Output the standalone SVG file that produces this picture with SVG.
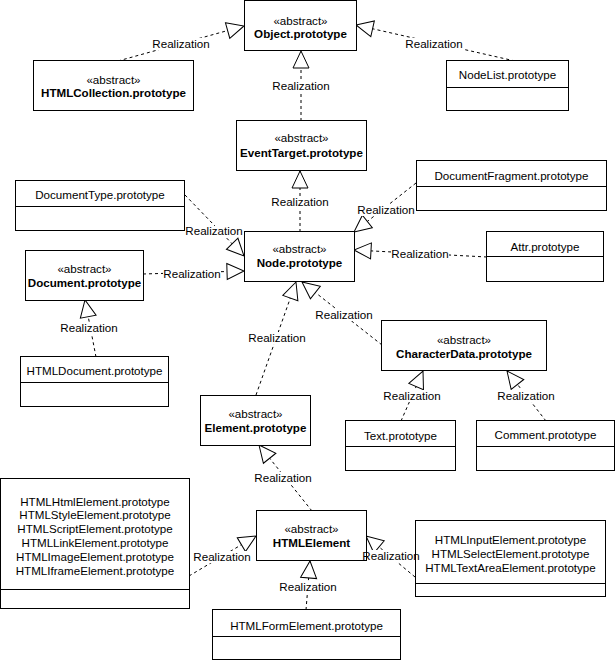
<svg xmlns="http://www.w3.org/2000/svg" width="616" height="661" viewBox="0 0 616 661">
<defs>
<style>
.box{fill:#fff;stroke:#000;stroke-width:1}
.div{fill:none;stroke:#000;stroke-width:1}
.t{font-family:"Liberation Sans",Arial,Helvetica,sans-serif;font-size:11.6px;fill:#000;text-anchor:middle}
.b{font-weight:bold}
.e{fill:none;stroke:#000;stroke-width:1;stroke-dasharray:3 3;marker-end:url(#tri)}
.lb{fill:#fff}
</style>
<marker id="tri" markerUnits="userSpaceOnUse" markerWidth="20" markerHeight="20" viewBox="0 0 20 20" refX="17" refY="8" orient="auto" overflow="visible">
<path d="M0,0 L17,8 L0,16 Z" fill="#fff" stroke="#000" stroke-width="1" stroke-dasharray="none"/>
</marker>
</defs>
<rect width="616" height="661" fill="#fff"/>

<g id="connectors">
<path class="e" d="M118,61 L244,26"/>
<path class="e" d="M515,61 L356,25"/>
<path class="e" d="M301,121 L301,51"/>
<path class="e" d="M300,232 L300,171"/>
<path class="e" d="M185,195 L244,256"/>
<path class="e" d="M143,274 L244,271"/>
<path class="e" d="M416,183 L354,232"/>
<path class="e" d="M487,257 L354,250"/>
<path class="e" d="M256,395 L296,282"/>
<path class="e" d="M382,345 L302,282"/>
<path class="e" d="M96,357 L85,300"/>
<path class="e" d="M401,421 L423,371"/>
<path class="e" d="M546,421 L507,371"/>
<path class="e" d="M312,511 L259,445"/>
<path class="e" d="M189,576 L256,536"/>
<path class="e" d="M415,577 L366,536"/>
<path class="e" d="M306,610 L310,561"/>
</g>

<g id="object"><rect class="box" x="244.5" y="0.5" width="112" height="50"/>
<text class="t" x="300.5" y="24.5">«abstract»</text><text class="t b" x="300.5" y="38">Object.prototype</text></g>

<g id="htmlcollection"><rect class="box" x="33.5" y="60.5" width="160" height="50"/>
<text class="t" x="113.5" y="84">«abstract»</text><text class="t b" x="113.5" y="97">HTMLCollection.prototype</text></g>

<g id="nodelist"><rect class="box" x="446.5" y="60.5" width="122" height="50"/><path class="div" d="M446.5,87.5 H568.5"/>
<text class="t" x="507.5" y="79">NodeList.prototype</text></g>

<g id="eventtarget"><rect class="box" x="236.5" y="120.5" width="130" height="50"/>
<text class="t" x="301.5" y="142">«abstract»</text><text class="t b" x="301.5" y="157">EventTarget.prototype</text></g>

<g id="documenttype"><rect class="box" x="15.5" y="180.5" width="169" height="50"/><path class="div" d="M15.5,206.5 H184.5"/>
<text class="t" x="100" y="199">DocumentType.prototype</text></g>

<g id="documentfragment"><rect class="box" x="416.5" y="160.5" width="190" height="50"/><path class="div" d="M416.5,186.5 H606.5"/>
<text class="t" x="511.5" y="180">DocumentFragment.prototype</text></g>

<g id="node"><rect class="box" x="244.5" y="231.5" width="110" height="50"/>
<text class="t" x="299.5" y="253">«abstract»</text><text class="t b" x="299.5" y="267">Node.prototype</text></g>

<g id="attr"><rect class="box" x="486.5" y="231.5" width="117" height="50"/><path class="div" d="M486.5,256.5 H603.5"/>
<text class="t" x="545" y="250.5">Attr.prototype</text></g>

<g id="document"><rect class="box" x="25.5" y="250.5" width="118" height="50"/>
<text class="t" x="84.5" y="273">«abstract»</text><text class="t b" x="84.5" y="287">Document.prototype</text></g>

<g id="htmldocument"><rect class="box" x="20.5" y="356.5" width="148" height="50"/><path class="div" d="M20.5,382.5 H168.5"/>
<text class="t" x="94.5" y="375">HTMLDocument.prototype</text></g>

<g id="characterdata"><rect class="box" x="381.5" y="320.5" width="165" height="50"/>
<text class="t" x="464" y="344">«abstract»</text><text class="t b" x="464" y="357.5">CharacterData.prototype</text></g>

<g id="element"><rect class="box" x="200.5" y="395.5" width="110" height="50"/>
<text class="t" x="255.5" y="418">«abstract»</text><text class="t b" x="255.5" y="431.5">Element.prototype</text></g>

<g id="text"><rect class="box" x="345.5" y="420.5" width="110" height="50"/><path class="div" d="M345.5,446.5 H455.5"/>
<text class="t" x="400.5" y="440">Text.prototype</text></g>

<g id="comment"><rect class="box" x="476.5" y="420.5" width="138" height="50"/><path class="div" d="M476.5,446.5 H614.5"/>
<text class="t" x="545.5" y="439">Comment.prototype</text></g>

<g id="htmlelements"><rect class="box" x="0.5" y="478.5" width="189" height="130"/><path class="div" d="M0.5,589.5 H189.5"/>
<text class="t" x="95" y="505.5">HTMLHtmlElement.prototype</text>
<text class="t" x="95" y="519.3">HTMLStyleElement.prototype</text>
<text class="t" x="95" y="533.1">HTMLScriptElement.prototype</text>
<text class="t" x="95" y="546.9">HTMLLinkElement.prototype</text>
<text class="t" x="95" y="560.7">HTMLImageElement.prototype</text>
<text class="t" x="95" y="574.5">HTMLIframeElement.prototype</text></g>

<g id="htmlelement"><rect class="box" x="256.5" y="510.5" width="110" height="50"/>
<text class="t" x="311.5" y="533">«abstract»</text><text class="t b" x="311.5" y="547">HTMLElement</text></g>

<g id="formcontrols"><rect class="box" x="415.5" y="520.5" width="190" height="76"/><path class="div" d="M415.5,583.5 H605.5"/>
<text class="t" x="510.5" y="544">HTMLInputElement.prototype</text>
<text class="t" x="510.5" y="558">HTMLSelectElement.prototype</text>
<text class="t" x="510.5" y="572">HTMLTextAreaElement.prototype</text></g>

<g id="htmlform"><rect class="box" x="212.5" y="609.5" width="188" height="50"/><path class="div" d="M212.5,636.5 H400.5"/>
<text class="t" x="306.5" y="630">HTMLFormElement.prototype</text></g>

<g id="connector-labels">
<rect class="lb" x="152" y="38" width="58" height="12"/><text class="t" x="181" y="48">Realization</text>
<rect class="lb" x="405" y="38" width="58" height="12"/><text class="t" x="434" y="48">Realization</text>
<rect class="lb" x="272" y="80" width="58" height="12"/><text class="t" x="301" y="90">Realization</text>
<rect class="lb" x="271" y="196" width="58" height="12"/><text class="t" x="300" y="206">Realization</text>
<rect class="lb" x="186" y="226" width="56" height="11"/><text class="t" x="214" y="235">Realization</text>
<rect class="lb" x="163" y="268" width="58" height="12"/><text class="t" x="192" y="278">Realization</text>
<rect class="lb" x="357" y="204" width="58" height="12"/><text class="t" x="386" y="214">Realization</text>
<rect class="lb" x="391" y="248" width="58" height="12"/><text class="t" x="420" y="258">Realization</text>
<rect class="lb" x="248" y="332" width="58" height="12"/><text class="t" x="277" y="342">Realization</text>
<rect class="lb" x="315" y="309" width="58" height="12"/><text class="t" x="344" y="319">Realization</text>
<rect class="lb" x="60" y="322" width="58" height="12"/><text class="t" x="89" y="332">Realization</text>
<rect class="lb" x="383" y="390" width="58" height="12"/><text class="t" x="412" y="400">Realization</text>
<rect class="lb" x="497" y="390" width="58" height="12"/><text class="t" x="526" y="400">Realization</text>
<rect class="lb" x="254" y="472" width="58" height="12"/><text class="t" x="283" y="482">Realization</text>
<rect class="lb" x="193" y="551" width="58" height="12"/><text class="t" x="222" y="561">Realization</text>
<rect class="lb" x="368" y="550" width="46" height="12"/><text class="t" x="391" y="560">Realization</text>
<rect class="lb" x="279" y="581" width="58" height="12"/><text class="t" x="308" y="591">Realization</text>
</g>
</svg>
